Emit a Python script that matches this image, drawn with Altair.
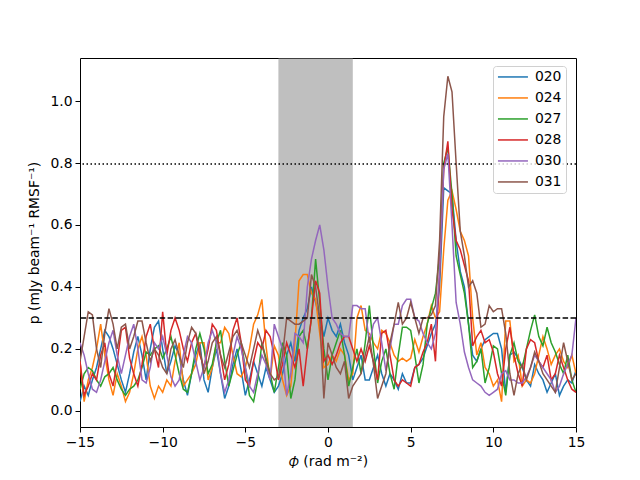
import altair as alt
import pandas as pd

x_start, x_step, n_pts = -15.0, 0.25, 121

s020 = [0.03, 0.08, 0.05, 0.10, 0.14, 0.20, 0.26, 0.24, 0.20, 0.15,
        0.10, 0.06, 0.12, 0.19, 0.24, 0.18, 0.10, 0.20, 0.27, 0.29,
        0.20, 0.12, 0.16, 0.21, 0.18, 0.10, 0.05, 0.12, 0.18, 0.22,
        0.10, 0.06, 0.14, 0.20, 0.12, 0.04, 0.08, 0.15, 0.20, 0.13,
        0.05, 0.10, 0.16, 0.12, 0.08, 0.14, 0.10, 0.06, 0.08, 0.12,
        0.18, 0.22, 0.16, 0.26, 0.30, 0.33, 0.40, 0.35, 0.30, 0.24,
        0.30, 0.26, 0.24, 0.28, 0.22, 0.18, 0.10, 0.14, 0.18, 0.10,
        0.10, 0.14, 0.18, 0.12, 0.08, 0.12, 0.10, 0.07, 0.12, 0.09,
        0.09, 0.14, 0.15, 0.17, 0.21, 0.25, 0.28, 0.40, 0.72, 0.71,
        0.70, 0.55, 0.45, 0.40, 0.28, 0.18, 0.16, 0.20, 0.23, 0.24,
        0.25, 0.25, 0.20, 0.06, 0.18, 0.19, 0.17, 0.14, 0.10, 0.08,
        0.15, 0.12, 0.10, 0.06, 0.09, 0.12, 0.05, 0.08, 0.10, 0.09, 0.13]

s024 = [0.16, 0.03, 0.10, 0.14, 0.20, 0.28, 0.18, 0.10, 0.05, 0.12,
        0.08, 0.03, 0.06, 0.12, 0.20, 0.24, 0.18, 0.08, 0.04, 0.08,
        0.06, 0.10, 0.08, 0.16, 0.22, 0.08, 0.10, 0.12, 0.15, 0.22,
        0.22, 0.10, 0.14, 0.22, 0.22, 0.27, 0.25, 0.18, 0.12, 0.11,
        0.14, 0.20, 0.28, 0.31, 0.36, 0.21, 0.10, 0.21, 0.18, 0.10,
        0.05, 0.08, 0.22, 0.42, 0.44, 0.44, 0.38, 0.36, 0.25, 0.14,
        0.15, 0.18, 0.16, 0.20, 0.18, 0.10, 0.12, 0.30, 0.34, 0.26,
        0.25, 0.22, 0.20, 0.26, 0.25, 0.22, 0.18, 0.16, 0.17, 0.16,
        0.17, 0.23, 0.19, 0.24, 0.28, 0.34, 0.30, 0.32, 0.52, 0.68,
        0.71, 0.65, 0.58, 0.55, 0.50, 0.30, 0.18, 0.22, 0.14, 0.12,
        0.08, 0.10, 0.03, 0.29, 0.29, 0.16, 0.18, 0.08, 0.10, 0.09,
        0.12, 0.18, 0.24, 0.20, 0.15, 0.18, 0.20, 0.16, 0.14, 0.18, 0.12]

s027 = [0.07, 0.12, 0.14, 0.13, 0.10, 0.08, 0.11, 0.12, 0.14, 0.10,
        0.07, 0.05, 0.07, 0.08, 0.10, 0.14, 0.19, 0.18, 0.20, 0.21,
        0.17, 0.20, 0.24, 0.18, 0.12, 0.07, 0.06, 0.12, 0.20, 0.25,
        0.20, 0.12, 0.15, 0.22, 0.26, 0.16, 0.08, 0.13, 0.18, 0.22,
        0.14, 0.05, 0.03, 0.10, 0.22, 0.17, 0.12, 0.06, 0.14, 0.22,
        0.18, 0.04, 0.10, 0.24, 0.26, 0.20, 0.30, 0.49, 0.35, 0.20,
        0.10, 0.18, 0.22, 0.26, 0.18, 0.08, 0.14, 0.20, 0.12, 0.22,
        0.34, 0.20, 0.09, 0.16, 0.20, 0.12, 0.07, 0.18, 0.27, 0.27,
        0.26, 0.18, 0.09, 0.15, 0.28, 0.33, 0.38, 0.50, 0.80, 0.85,
        0.70, 0.50, 0.44, 0.38, 0.28, 0.14, 0.16, 0.20, 0.09, 0.14,
        0.21, 0.20, 0.12, 0.05, 0.18, 0.22, 0.16, 0.14, 0.20, 0.26,
        0.31, 0.24, 0.21, 0.27, 0.22, 0.19, 0.15, 0.12, 0.18, 0.10, 0.06]

s028 = [0.16, 0.05, 0.08, 0.12, 0.10, 0.18, 0.22, 0.12, 0.08, 0.16,
        0.26, 0.27, 0.17, 0.12, 0.08, 0.15, 0.24, 0.28, 0.20, 0.14,
        0.32, 0.18, 0.26, 0.30, 0.26, 0.20, 0.16, 0.22, 0.25, 0.18,
        0.14, 0.20, 0.28, 0.26, 0.18, 0.10, 0.15, 0.26, 0.30, 0.22,
        0.10, 0.08, 0.16, 0.22, 0.20, 0.26, 0.24, 0.18, 0.10, 0.15,
        0.22, 0.18, 0.14, 0.20, 0.08, 0.20, 0.30, 0.42, 0.38, 0.16,
        0.18, 0.15, 0.18, 0.22, 0.24, 0.24, 0.20, 0.16, 0.20, 0.16,
        0.21, 0.16, 0.10, 0.25, 0.26, 0.18, 0.10, 0.08, 0.10, 0.09,
        0.08, 0.14, 0.15, 0.19, 0.22, 0.28, 0.16, 0.45, 0.78, 0.87,
        0.65, 0.55, 0.52, 0.47, 0.42, 0.21, 0.24, 0.26, 0.22, 0.23,
        0.19, 0.12, 0.08, 0.20, 0.27, 0.18, 0.12, 0.08, 0.20, 0.23,
        0.22, 0.16, 0.14, 0.18, 0.10, 0.12, 0.18, 0.14, 0.10, 0.07, 0.06]

s030 = [0.22, 0.18, 0.12, 0.07, 0.06, 0.10, 0.16, 0.22, 0.26, 0.18,
        0.12, 0.18, 0.24, 0.28, 0.20, 0.10, 0.09, 0.14, 0.22, 0.20,
        0.24, 0.18, 0.11, 0.08, 0.10, 0.18, 0.24, 0.22, 0.16, 0.10,
        0.14, 0.22, 0.26, 0.22, 0.12, 0.06, 0.10, 0.18, 0.24, 0.20,
        0.14, 0.08, 0.06, 0.12, 0.18, 0.15, 0.10, 0.28, 0.24, 0.20,
        0.05, 0.12, 0.25, 0.24, 0.22, 0.40, 0.49, 0.55, 0.60, 0.52,
        0.40, 0.30, 0.28, 0.25, 0.24, 0.24, 0.34, 0.34, 0.33, 0.33,
        0.22, 0.28, 0.30, 0.22, 0.13, 0.20, 0.28, 0.28, 0.34, 0.36,
        0.36, 0.30, 0.29, 0.25, 0.22, 0.20, 0.25, 0.45, 0.78, 0.83,
        0.60, 0.35, 0.28, 0.19, 0.14, 0.10, 0.09, 0.08, 0.06, 0.05,
        0.06, 0.07, 0.12, 0.13, 0.10, 0.10, 0.09, 0.09, 0.11, 0.14,
        0.18, 0.16, 0.14, 0.12, 0.10, 0.06, 0.08, 0.12, 0.15, 0.18, 0.30]

s031 = [0.16, 0.24, 0.32, 0.31, 0.20, 0.14, 0.25, 0.33, 0.28, 0.20,
        0.27, 0.28, 0.20, 0.24, 0.29, 0.29, 0.22, 0.16, 0.20, 0.18,
        0.14, 0.12, 0.20, 0.23, 0.18, 0.14, 0.22, 0.27, 0.25, 0.20,
        0.12, 0.16, 0.22, 0.24, 0.18, 0.14, 0.19, 0.24, 0.26, 0.22,
        0.18, 0.14, 0.20, 0.26, 0.22, 0.16, 0.12, 0.10, 0.11, 0.18,
        0.30, 0.29, 0.28, 0.28, 0.29, 0.30, 0.44, 0.40, 0.30, 0.04,
        0.22, 0.18, 0.14, 0.12, 0.16, 0.04, 0.08, 0.10, 0.12, 0.18,
        0.24, 0.15, 0.04, 0.08, 0.12, 0.22, 0.28, 0.35, 0.28, 0.30,
        0.35, 0.30, 0.25, 0.30, 0.30, 0.31, 0.34, 0.55, 0.95, 1.08,
        1.03, 0.80, 0.58, 0.50, 0.40, 0.42, 0.38, 0.27, 0.28, 0.34,
        0.32, 0.33, 0.33, 0.25, 0.12, 0.05, 0.12, 0.15, 0.10, 0.14,
        0.19, 0.16, 0.12, 0.10, 0.08, 0.06, 0.14, 0.22, 0.16, 0.10, 0.12]

series_names = ["020", "024", "027", "028", "030", "031"]
series_values = [s020, s024, s027, s028, s030, s031]
series_colors = ["#1f77b4", "#ff7f0e", "#2ca02c", "#d62728", "#9467bd", "#8c564b"]

span_lo, span_hi = -3.0, 1.5
dashed_level = 0.3
dotted_level = 0.797

x_ticks = [-15, -10, -5, 0, 5, 10, 15]
y_ticks = [0.0, 0.2, 0.4, 0.6, 0.8, 1.0]

rows = []
for name, vals in zip(series_names, series_values):
    for i, v in enumerate(vals):
        rows.append({"phi": x_start + i * x_step, "p": v, "series": name, "order": series_names.index(name)})
df = pd.DataFrame(rows)

xscale = alt.Scale(domain=[-15, 15], nice=False, zero=False)
yscale = alt.Scale(domain=[-0.052, 1.139], nice=False, zero=False)

FS = 13.9
xaxis = alt.Axis(values=x_ticks, title="𝜙 (rad m⁻²)", format="d", grid=False, labelFlush=False,
                 tickSize=5, labelPadding=3, titlePadding=6)
yaxis = alt.Axis(values=y_ticks, title="p (mJy beam⁻¹ RMSF⁻¹)", format=".1f", grid=False,
                 labelFlush=False, tickSize=5, labelPadding=3, titlePadding=8)

span = alt.Chart(pd.DataFrame({"a": [span_lo], "b": [span_hi]})).mark_rect(
    color="#808080", opacity=0.5
).encode(
    x=alt.X("a:Q", scale=xscale, axis=xaxis),
    x2="b:Q",
    y=alt.value(0), y2=alt.value(369),
)

lines = alt.Chart(df).mark_line(strokeWidth=1.5, clip=True).encode(
    x=alt.X("phi:Q", scale=xscale, axis=xaxis),
    y=alt.Y("p:Q", scale=yscale, axis=yaxis),
    color=alt.Color("series:N", scale=alt.Scale(domain=series_names, range=series_colors),
                    legend=alt.Legend(title=None, orient="none", legendX=413, legendY=8,
                                      symbolType="M-3,0H3", symbolSize=100, symbolStrokeWidth=1.5,
                                      symbolOffset=9,
                                      labelFontSize=FS, labelFont="DejaVu Sans", labelColor="black",
                                      strokeColor="#d0d0d0", fillColor="rgba(255,255,255,0.8)",
                                      padding=4, cornerRadius=3, rowPadding=6, labelOffset=15)),
    order="order:Q",
)

dash_rule = alt.Chart(pd.DataFrame({"y": [dashed_level]})).mark_rule(
    color="black", strokeWidth=1.5, strokeDash=[5.5, 2.4]
).encode(y=alt.Y("y:Q", scale=yscale))

dot_rule = alt.Chart(pd.DataFrame({"y": [dotted_level]})).mark_rule(
    color="black", strokeWidth=1.5, strokeDash=[1.5, 2.5]
).encode(y=alt.Y("y:Q", scale=yscale))

chart = alt.layer(span, lines, dash_rule, dot_rule).properties(
    width=496, height=369,
    autosize=alt.AutoSizeParams(type="none"),
    padding={"left": 72, "top": 50, "right": 56, "bottom": 45},
).configure(font="DejaVu Sans").configure_view(
    stroke="black", strokeWidth=1
).configure_axis(
    domain=False, tickColor="black", tickWidth=1, labelColor="black", titleColor="black",
    labelFontSize=FS, titleFontSize=FS, titleFontWeight="normal", labelFont="DejaVu Sans",
    titleFont="DejaVu Sans"
)

chart.save("out.html", embed_options={"renderer": "svg", "actions": False})
